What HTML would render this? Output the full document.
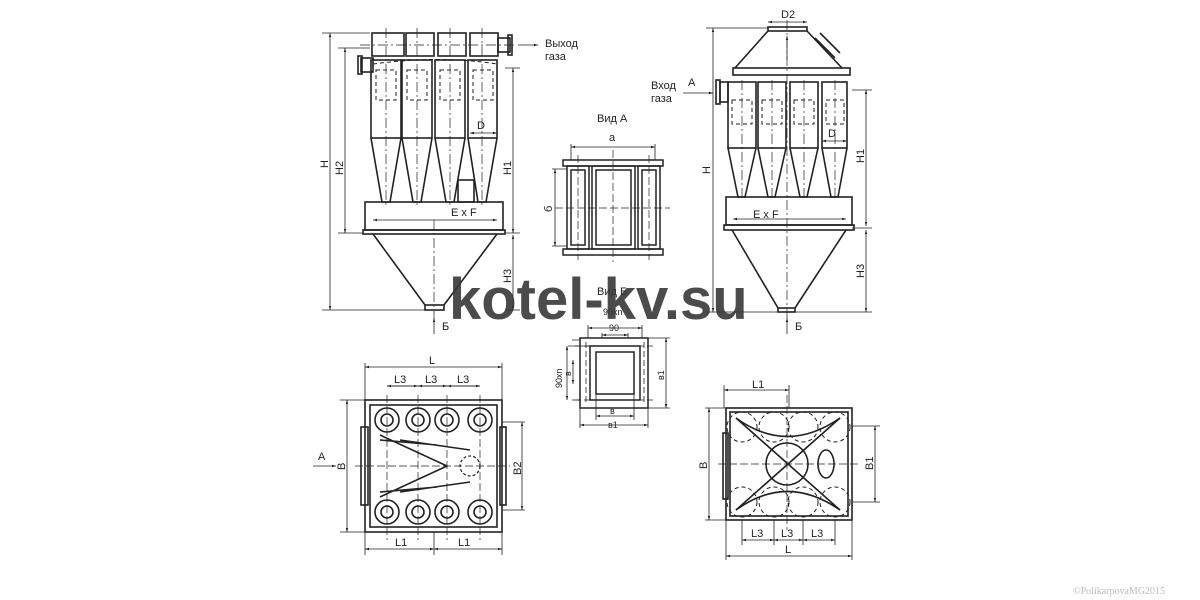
<!DOCTYPE html>
<html><head><meta charset="utf-8"><style>
html,body{margin:0;padding:0;background:#fff;width:1200px;height:600px;overflow:hidden}
svg{display:block}
text{font-family:"Liberation Sans",sans-serif;fill:#222}
</style></head><body>
<svg width="1200" height="600" viewBox="0 0 1200 600" xmlns="http://www.w3.org/2000/svg">
<defs>
<marker id="a" viewBox="0 0 10 10" refX="10" refY="5" markerWidth="5" markerHeight="5" orient="auto-start-reverse"><path d="M0,2 L10,5 L0,8z" fill="#222"/></marker>
</defs>
<g stroke="#222" fill="none" stroke-width="1.2">
<!-- LEFT ELEVATION -->
<g stroke-width="1.6">
<rect x="372" y="33" width="32" height="23"/><rect x="406" y="33" width="28" height="23"/><rect x="438" y="33" width="28" height="23"/><rect x="470" y="33" width="28" height="23"/>
<rect x="498" y="38" width="12" height="14"/><rect x="508" y="35" width="4" height="20"/>
<rect x="361" y="58" width="12" height="14"/><rect x="358" y="56" width="4" height="18"/>
<rect x="371" y="60" width="30" height="78"/><rect x="402" y="60" width="30" height="78"/><rect x="435" y="60" width="30" height="78"/><rect x="468" y="60" width="29" height="78"/>
<path d="M371,138 L382,202 L390,202 L401,138 M402,138 L413,202 L421,202 L432,138 M435,138 L446,202 L454,202 L465,138 M468,138 L478,202 L486,202 L497,138"/>
<rect x="365" y="202" width="138" height="28"/><rect x="363" y="230" width="142" height="4"/>
<path d="M373,234 L425,305 M497,234 L444,305"/><rect x="425" y="305" width="19" height="5"/>
<rect x="458" y="180" width="16" height="22"/>
</g>
<g stroke-dasharray="4,3" stroke-width="1">
<rect x="376" y="70" width="20" height="30"/><rect x="407" y="70" width="20" height="30"/><rect x="440" y="70" width="20" height="30"/><rect x="473" y="70" width="20" height="30"/>
<path d="M373,64 Q440,55 497,64"/>
</g>
<g stroke-dasharray="10,3,2,3" stroke-width="0.7">
<path d="M386,28 V205 M417,28 V205 M450,28 V205 M482,28 V205 M434,220 V322 M360,45 H515"/>
</g>
<g stroke-width="0.8">
<path d="M322,33 H370 M322,310 H425 M338,48 H370 M338,233 H363 M505,68 H520 M505,233 H520 M505,310 H520"/>
<path d="M330,33 V310" marker-start="url(#a)" marker-end="url(#a)"/>
<path d="M345,48 V233" marker-start="url(#a)" marker-end="url(#a)"/>
<path d="M513,68 V233" marker-start="url(#a)" marker-end="url(#a)"/>
<path d="M513,235 V310" marker-start="url(#a)" marker-end="url(#a)"/>
<path d="M373,220 H497" marker-start="url(#a)" marker-end="url(#a)"/>
<path d="M470,133 H497" marker-start="url(#a)" marker-end="url(#a)"/>
<path d="M518,45 H538" marker-end="url(#a)"/>
<path d="M434,334 V318" marker-end="url(#a)"/>
</g>
<!-- RIGHT ELEVATION -->
<g stroke-width="1.6">
<rect x="768" y="27" width="39" height="4"/>
<path d="M768,31 L735,68 M807,31 L842,68"/>
<rect x="733" y="68" width="117" height="7"/>
<path d="M815,38 L835,58 M820,33 L840,53"/>
<rect x="720" y="82" width="8" height="20"/><rect x="716" y="80" width="4" height="24"/>
<rect x="728" y="82" width="28" height="66"/><rect x="758" y="82" width="28" height="66"/><rect x="790" y="82" width="28" height="66"/><rect x="822" y="82" width="25" height="66"/>
<path d="M728,148 L738,197 L745,197 L756,148 M758,148 L768,197 L775,197 L786,148 M790,148 L800,197 L807,197 L818,148 M822,148 L831,197 L838,197 L847,148"/>
<rect x="726" y="197" width="126" height="28"/><rect x="724" y="225" width="130" height="5"/>
<path d="M732,230 L778,308 M846,230 L795,308"/><rect x="778" y="308" width="17" height="4"/>
</g>
<g stroke-dasharray="4,3" stroke-width="1">
<rect x="732" y="100" width="20" height="24"/><rect x="762" y="100" width="20" height="24"/><rect x="794" y="100" width="20" height="24"/><rect x="826" y="100" width="18" height="24"/>
</g>
<g stroke-dasharray="10,3,2,3" stroke-width="0.7"><path d="M787,20 V322 M742,80 V200 M772,80 V200 M804,80 V200 M835,80 V200"/></g>
<g stroke-width="0.8">
<path d="M706,28 H768 M706,312 H778 M852,90 H872 M852,228 H872 M795,312 H872"/>
<path d="M713,28 V312" marker-start="url(#a)" marker-end="url(#a)"/>
<path d="M866,90 V226" marker-start="url(#a)" marker-end="url(#a)"/>
<path d="M866,230 V312" marker-start="url(#a)" marker-end="url(#a)"/>
<path d="M733,219 H846" marker-start="url(#a)" marker-end="url(#a)"/>
<path d="M768,22 H807" marker-start="url(#a)" marker-end="url(#a)"/>
<path d="M822,141 H847" marker-start="url(#a)" marker-end="url(#a)"/>
<path d="M683,93 H713" marker-end="url(#a)"/>
<path d="M787,60 V36" marker-end="url(#a)"/>
<path d="M787,334 V318" marker-end="url(#a)"/>
</g>
<!-- VID A -->
<g stroke-width="1.5">
<rect x="563" y="160" width="100" height="6"/><rect x="563" y="249" width="100" height="6"/>
<rect x="567" y="166" width="22" height="83"/><rect x="571" y="170" width="14" height="75"/>
<rect x="592" y="166" width="43" height="83"/><rect x="596" y="170" width="35" height="75"/>
<rect x="638" y="166" width="22" height="83"/><rect x="642" y="170" width="14" height="75"/>
</g>
<g stroke-dasharray="8,3" stroke-width="0.7"><path d="M613,150 V262 M555,208 H670 M578,155 V260 M649,155 V260"/></g>
<g stroke-width="0.8"><path d="M571,144 V160 M655,144 V160 M552,169 H567 M552,246 H567"/>
<path d="M571,147 H655" marker-start="url(#a)" marker-end="url(#a)"/>
<path d="M555,169 V246" marker-start="url(#a)" marker-end="url(#a)"/></g>
<!-- VID B -->
<g stroke-width="1.5">
<rect x="580" y="338" width="68" height="70"/><rect x="590" y="346" width="50" height="54"/><rect x="596" y="352" width="38" height="42"/>
</g>
<g stroke-width="0.8">
<path d="M572,340 H580 M568,346 H590 M572,400 H580 M648,338 H670 M648,408 H670 M580,408 V428 M648,408 V428 M596,394 V420 M634,394 V420 M588,325 V338 M642,325 V338 M602,338 V333 M628,338 V333"/>
<path d="M588,328 H642" marker-start="url(#a)" marker-end="url(#a)"/>
<path d="M602,335 H628" marker-start="url(#a)" marker-end="url(#a)"/>
<path d="M567,346 V400" marker-start="url(#a)" marker-end="url(#a)"/>
<path d="M573,360 V384" marker-start="url(#a)" marker-end="url(#a)"/>
<path d="M666,338 V408" marker-start="url(#a)" marker-end="url(#a)"/>
<path d="M596,416 H634" marker-start="url(#a)" marker-end="url(#a)"/>
<path d="M580,425 H648" marker-start="url(#a)" marker-end="url(#a)"/>
<path d="M575,346 H655 M575,400 H655 M586,342 V404 M644,342 V404" stroke-dasharray="6,3"/>
</g>
<!-- PLAN LEFT -->
<g stroke-width="1.6">
<rect x="365" y="400" width="137" height="132"/><rect x="370" y="405" width="127" height="122"/>
<rect x="361" y="427" width="7" height="78"/><rect x="500" y="427" width="6" height="78"/>
<circle cx="387" cy="420" r="12"/><circle cx="418" cy="420" r="12"/><circle cx="447" cy="420" r="12"/><circle cx="480" cy="420" r="12"/>
<circle cx="387" cy="512" r="12"/><circle cx="418" cy="512" r="12"/><circle cx="447" cy="512" r="12"/><circle cx="480" cy="512" r="12"/>
<circle cx="387" cy="420" r="6"/><circle cx="418" cy="420" r="6"/><circle cx="447" cy="420" r="6"/><circle cx="480" cy="420" r="6"/>
<circle cx="387" cy="512" r="6"/><circle cx="418" cy="512" r="6"/><circle cx="447" cy="512" r="6"/><circle cx="480" cy="512" r="6"/>
<path d="M380,435 L447,466 L380,497 M380,440 L437,445 M400,440 L470,450 M380,492 L437,487 M400,492 L470,482"/>
</g>
<circle cx="470" cy="466" r="10" stroke-dasharray="3,2"/>
<g stroke-dasharray="8,3" stroke-width="0.7"><path d="M355,466 H510 M387,395 V540 M418,395 V540 M447,395 V540 M480,395 V540"/></g>
<g stroke-width="0.8">
<path d="M365,363 V400 M502,363 V400 M340,400 H365 M340,532 H365 M502,422 H525 M502,510 H525 M365,532 V555 M502,532 V555 M434,532 V555"/>
<path d="M365,367 H502" marker-start="url(#a)" marker-end="url(#a)"/>
<path d="M387,386 H480" />
<path d="M387,386 H418" marker-start="url(#a)" marker-end="url(#a)"/><path d="M418,386 H447" marker-start="url(#a)" marker-end="url(#a)"/><path d="M447,386 H480" marker-start="url(#a)" marker-end="url(#a)"/>
<path d="M347,400 V532" marker-start="url(#a)" marker-end="url(#a)"/>
<path d="M522,422 V510" marker-start="url(#a)" marker-end="url(#a)"/>
<path d="M365,549 H434" marker-start="url(#a)" marker-end="url(#a)"/><path d="M434,549 H502" marker-start="url(#a)" marker-end="url(#a)"/>
<path d="M313,466 H336" marker-end="url(#a)"/>
</g>
<!-- PLAN RIGHT -->
<g stroke-width="1.6">
<rect x="726" y="408" width="126" height="112"/><rect x="730" y="412" width="118" height="104"/>
<rect x="723" y="433" width="5" height="66"/>
<circle cx="787" cy="464" r="21"/>
<ellipse cx="826" cy="464" rx="8" ry="14"/>
<path d="M736,418 L840,510 M840,418 L736,510"/>
<path d="M736,418 Q787,455 840,418 M736,510 Q787,473 840,510"/>
</g>
<g stroke-dasharray="4,3" stroke-width="1">
<circle cx="742" cy="427" r="15"/><circle cx="774" cy="427" r="15"/><circle cx="803" cy="427" r="15"/><circle cx="835" cy="427" r="15"/>
<circle cx="742" cy="502" r="15"/><circle cx="774" cy="502" r="15"/><circle cx="803" cy="502" r="15"/><circle cx="835" cy="502" r="15"/>
</g>
<g stroke-dasharray="8,3" stroke-width="0.7"><path d="M718,464 H860 M787,395 V530"/></g>
<g stroke-width="0.8">
<path d="M724,385 V408 M789,385 V408 M705,408 H726 M705,520 H726 M852,426 H880 M852,502 H880 M726,520 V560 M852,520 V560 M742,520 V545 M774,520 V545 M803,520 V545 M835,520 V545"/>
<path d="M724,390 H789" marker-start="url(#a)" marker-end="url(#a)"/>
<path d="M709,408 V520" marker-start="url(#a)" marker-end="url(#a)"/>
<path d="M875,426 V502" marker-start="url(#a)" marker-end="url(#a)"/>
<path d="M742,540 H774" marker-start="url(#a)" marker-end="url(#a)"/><path d="M774,540 H803" marker-start="url(#a)" marker-end="url(#a)"/><path d="M803,540 H835" marker-start="url(#a)" marker-end="url(#a)"/>
<path d="M726,556 H852" marker-start="url(#a)" marker-end="url(#a)"/>
</g>
</g>
<!-- LABELS -->
<g font-size="11">
<text x="545" y="47">Выход</text><text x="545" y="60">газа</text>
<text x="651" y="89">Вход</text><text x="651" y="102">газа</text><text x="688" y="86">А</text>
<text x="477" y="129">D</text><text x="828" y="137">D</text>
<text x="451" y="216">E x F</text><text x="753" y="218">E x F</text>
<text x="781" y="18">D2</text>
<text x="597" y="122">Вид А</text><text x="609" y="141">а</text>
<text x="597" y="295">Вид Б</text>
<text x="442" y="330">Б</text><text x="795" y="330">Б</text>
<text x="429" y="364">L</text>
<text x="394" y="383">L3</text><text x="425" y="383">L3</text><text x="457" y="383">L3</text>
<text x="395" y="546">L1</text><text x="458" y="546">L1</text>
<text x="318" y="460">А</text>
<text x="752" y="388">L1</text>
<text x="751" y="537">L3</text><text x="781" y="537">L3</text><text x="811" y="537">L3</text>
<text x="785" y="553">L</text>
</g>
<g font-size="11">
<text transform="translate(328,168) rotate(-90)">H</text>
<text transform="translate(343,175) rotate(-90)">H2</text>
<text transform="translate(511,175) rotate(-90)">H1</text>
<text transform="translate(511,283) rotate(-90)">H3</text>
<text transform="translate(710,174) rotate(-90)">H</text>
<text transform="translate(864,163) rotate(-90)">H1</text>
<text transform="translate(864,278) rotate(-90)">H3</text>
<text transform="translate(552,212) rotate(-90)">б</text>
<text transform="translate(345,470) rotate(-90)">B</text>
<text transform="translate(521,475) rotate(-90)">B2</text>
<text transform="translate(707,469) rotate(-90)">B</text>
<text transform="translate(873,470) rotate(-90)">B1</text>
<text transform="translate(664,380) rotate(-90)" font-size="9">в1</text>
<text transform="translate(571,376) rotate(-90)" font-size="9">в</text>
<text transform="translate(562,388) rotate(-90)" font-size="9">90хn</text>
</g>
<g font-size="9">
<text x="603" y="315">90хn</text><text x="609" y="331">90</text>
<text x="610" y="414">в</text><text x="608" y="428">в1</text>
</g>
<text x="449" y="319" font-size="58" font-weight="bold" style="fill:rgba(55,55,55,0.9)">kotel-kv.su</text>
<text x="1073" y="594" font-size="10" style="fill:#bbb;font-family:'Liberation Serif',serif">©PolikarpovaMG2015</text>
</svg>
</body></html>
